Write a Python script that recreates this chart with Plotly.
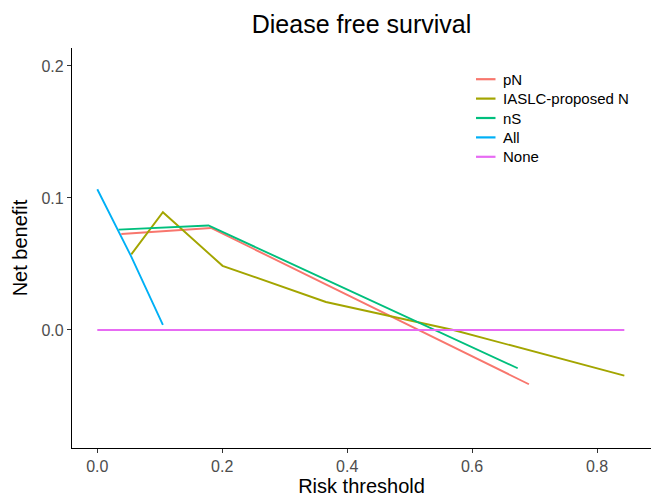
import plotly.graph_objects as go

# Data
pn_x = [0.0384, 0.182, 0.691]
pn_y = [0.0727, 0.0773, -0.0411]

iaslc_x = [0.0544, 0.105, 0.2005, 0.366, 0.570, 0.8437]
iaslc_y = [0.0573, 0.0892, 0.0486, 0.0212, 0.0, -0.0346]

ns_x = [0.034, 0.178, 0.673]
ns_y = [0.0760, 0.0792, -0.029]

all_x = [0.0, 0.054, 0.105]
all_y = [0.1066, 0.056, 0.0038]

none_x = [0.0, 0.8437]
none_y = [0.0, 0.0]

series = [
    ("pN", pn_x, pn_y, "#F8766D"),
    ("IASLC-proposed N", iaslc_x, iaslc_y, "#A3A500"),
    ("nS", ns_x, ns_y, "#00BF7D"),
    ("All", all_x, all_y, "#00B0F6"),
    ("None", none_x, none_y, "#E76BF3"),
]

x_ticks = [0.0, 0.2, 0.4, 0.6, 0.8]
x_ticklabels = ["0.0", "0.2", "0.4", "0.6", "0.8"]
y_ticks = [0.0, 0.1, 0.2]
y_ticklabels = ["0.0", "0.1", "0.2"]

FONT = "Liberation Sans, Arial, sans-serif"

W, H = 651, 497
ML, MR, MT, MB = 72, 0, 48, 49
PW, PH = W - ML - MR, H - MT - MB


def px_x(p):
    return (p - ML) / PW


def px_y(p):
    return (H - MB - p) / PH


fig = go.Figure()
for name, xs, ys, col in series:
    fig.add_trace(go.Scatter(x=xs, y=ys, mode="lines", name=name,
                             line=dict(color=col, width=1.9), showlegend=False))

# legend drawn as paper-referenced keys and labels (ggplot-style spacing)
shapes = []
annotations = []
for i, (name, xs, ys, col) in enumerate(series):
    cy = 79.2 + i * 19.4
    shapes.append(dict(type="line", xref="paper", yref="paper",
                       x0=px_x(476), x1=px_x(495.5), y0=px_y(cy), y1=px_y(cy),
                       line=dict(color=col, width=2.2)))
    annotations.append(dict(text=name, xref="paper", yref="paper",
                            x=px_x(500.5), y=px_y(cy), xanchor="left", yanchor="middle",
                            showarrow=False,
                            font=dict(size=15, family=FONT, color="black")))

fig.update_layout(
    width=W, height=H,
    margin=dict(l=ML, r=MR, t=MT, b=MB),
    paper_bgcolor="white", plot_bgcolor="white",
    font=dict(family=FONT, color="black"),
    title=dict(text="Diease free survival", x=0.5, xref="paper",
               y=1 - 24 / H, yref="container", yanchor="middle",
               font=dict(size=25, family=FONT, color="black")),
    showlegend=False,
    shapes=shapes,
    annotations=annotations,
)

fig.update_xaxes(
    range=[-0.0405, 0.8864], tickvals=x_ticks, ticktext=x_ticklabels,
    showgrid=False, zeroline=False, showline=True, linecolor="black", linewidth=1.3,
    ticks="outside", ticklen=4, tickcolor="#333333", tickwidth=1.1,
    tickfont=dict(size=16, color="#4D4D4D", family=FONT),
    title=dict(text="Risk threshold", font=dict(size=20, family=FONT, color="black"), standoff=6),
)
fig.update_yaxes(
    range=[-0.0894, 0.2136], tickvals=y_ticks, ticktext=y_ticklabels,
    showgrid=False, zeroline=False, showline=True, linecolor="black", linewidth=1.3,
    ticks="outside", ticklen=4, tickcolor="#333333", tickwidth=1.1,
    tickfont=dict(size=16, color="#4D4D4D", family=FONT),
    title=dict(text="Net benefit", font=dict(size=20, family=FONT, color="black"), standoff=8),
)

fig.write_html("out.html")
